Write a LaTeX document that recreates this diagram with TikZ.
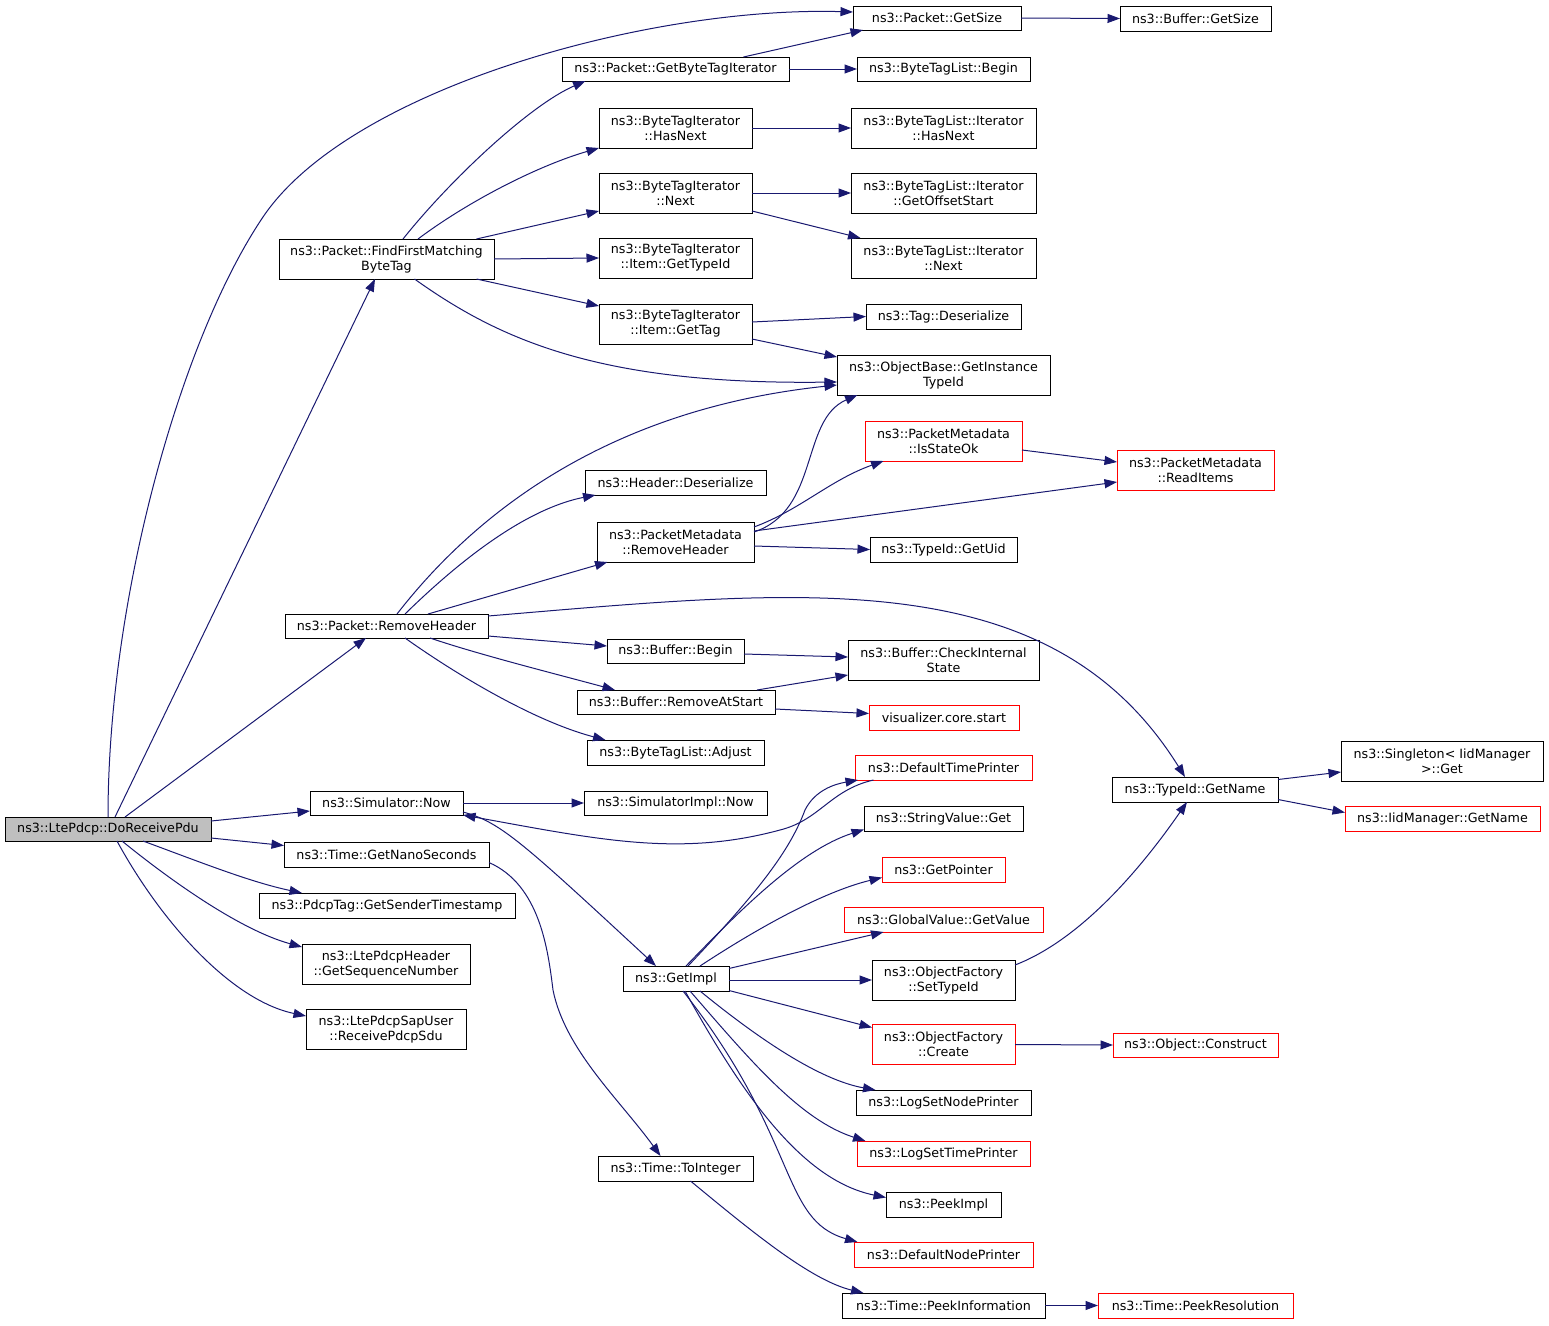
\documentclass[tikz,border=0pt]{standalone}
\usepackage{fontspec}
\setmainfont{DejaVu Sans}
\usetikzlibrary{arrows.meta}
\definecolor{edgec}{HTML}{191970}
\definecolor{boxc}{HTML}{000000}
\definecolor{redc}{HTML}{FF0000}
\definecolor{fillc}{HTML}{BFBFBF}
\tikzset{
 box/.style={draw=boxc, line width=1pt, inner xsep=2pt, inner ysep=1pt, outer sep=0pt, align=center, font=\fontsize{12.7}{15}\selectfont, text=black},
 redbox/.style={box, draw=redc},
 edge/.style={draw=edgec, line width=1pt, -{Triangle[length=12.5pt,width=9pt]}},
}
\begin{document}
\begin{tikzpicture}[x=1pt,y=-1pt]
\useasboundingbox (0,0) rectangle (1549,1325);
% ---- nodes
\node[box, fill=fillc, minimum width=206pt, minimum height=24pt] (drp) at (108,829) {ns3::LtePdcp::DoReceivePdu};
\node[box, minimum width=153pt, minimum height=24pt] (simnow) at (386.5,803) {ns3::Simulator::Now};
\node[box, minimum width=205pt, minimum height=25pt] (gns) at (386.5,854.5) {ns3::Time::GetNanoSeconds};
\node[box, minimum width=256pt, minimum height=25pt] (gst) at (387,905.5) {ns3::PdcpTag::GetSenderTimestamp};
\node[box, minimum width=168pt, minimum height=40pt] (gsn) at (386,964) {ns3::LtePdcpHeader\\::GetSequenceNumber};
\node[box, minimum width=160pt, minimum height=40pt] (rps) at (386,1029) {ns3::LtePdcpSapUser\\::ReceivePdcpSdu};
\node[box, minimum width=215pt, minimum height=40pt] (ffm) at (386.5,259) {ns3::Packet::FindFirstMatching\\ByteTag};
\node[box, minimum width=203pt, minimum height=24pt] (rh) at (386.5,626) {ns3::Packet::RemoveHeader};
\node[box, minimum width=168pt, minimum height=24pt] (pgs) at (937,18) {ns3::Packet::GetSize};
\node[box, minimum width=151pt, minimum height=25pt] (bgs) at (1195.5,18.5) {ns3::Buffer::GetSize};
\node[box, minimum width=227pt, minimum height=24pt] (gbti) at (675.5,69) {ns3::Packet::GetByteTagIterator};
\node[box, minimum width=173pt, minimum height=24pt] (btlb) at (943.5,69) {ns3::ByteTagList::Begin};
\node[box, minimum width=153pt, minimum height=40pt] (bhn) at (675.5,128) {ns3::ByteTagIterator\\::HasNext};
\node[box, minimum width=185pt, minimum height=40pt] (blhn) at (943.5,128) {ns3::ByteTagList::Iterator\\::HasNext};
\node[box, minimum width=153pt, minimum height=40pt] (bnx) at (675.5,193) {ns3::ByteTagIterator\\::Next};
\node[box, minimum width=185pt, minimum height=40pt] (bgos) at (943.5,193) {ns3::ByteTagList::Iterator\\::GetOffsetStart};
\node[box, minimum width=153pt, minimum height=40pt] (bgt) at (675.5,258) {ns3::ByteTagIterator\\::Item::GetTypeId};
\node[box, minimum width=185pt, minimum height=40pt] (blnx) at (943.5,258) {ns3::ByteTagList::Iterator\\::Next};
\node[box, minimum width=153pt, minimum height=40pt] (bgtag) at (675.5,324) {ns3::ByteTagIterator\\::Item::GetTag};
\node[box, minimum width=155pt, minimum height=25pt] (tds) at (943.5,316.5) {ns3::Tag::Deserialize};
\node[box, minimum width=213pt, minimum height=40pt] (git) at (943.5,375) {ns3::ObjectBase::GetInstance\\TypeId};
\node[redbox, minimum width=157pt, minimum height=40pt] (iso) at (943.5,441) {ns3::PacketMetadata\\::IsStateOk};
\node[redbox, minimum width=157pt, minimum height=40pt] (rit) at (1195.5,470) {ns3::PacketMetadata\\::ReadItems};
\node[box, minimum width=181pt, minimum height=25pt] (hds) at (675.5,482.5) {ns3::Header::Deserialize};
\node[box, minimum width=157pt, minimum height=40pt] (pmrh) at (675.5,542) {ns3::PacketMetadata\\::RemoveHeader};
\node[box, minimum width=147pt, minimum height=25pt] (uid) at (943.5,549.5) {ns3::TypeId::GetUid};
\node[box, minimum width=137pt, minimum height=24pt] (bb) at (675.5,651) {ns3::Buffer::Begin};
\node[box, minimum width=191pt, minimum height=40pt] (cis) at (943.5,660) {ns3::Buffer::CheckInternal\\State};
\node[box, minimum width=198pt, minimum height=24pt] (rat) at (676,702) {ns3::Buffer::RemoveAtStart};
\node[redbox, minimum width=150pt, minimum height=25pt] (vcs) at (944,717.5) {visualizer.core.start};
\node[box, minimum width=177pt, minimum height=25pt] (bta) at (675.5,752.5) {ns3::ByteTagList::Adjust};
\node[box, minimum width=183pt, minimum height=24pt] (sin) at (675.5,803) {ns3::SimulatorImpl::Now};
\node[redbox, minimum width=177pt, minimum height=25pt] (dtp) at (943.5,767.5) {ns3::DefaultTimePrinter};
\node[box, minimum width=159pt, minimum height=25pt] (svg) at (943.5,818.5) {ns3::StringValue::Get};
\node[redbox, minimum width=123pt, minimum height=25pt] (gp) at (943.5,869.5) {ns3::GetPointer};
\node[redbox, minimum width=199pt, minimum height=25pt] (gv) at (943.5,919.5) {ns3::GlobalValue::GetValue};
\node[box, minimum width=143pt, minimum height=40pt] (stid) at (943.5,980) {ns3::ObjectFactory\\::SetTypeId};
\node[redbox, minimum width=143pt, minimum height=40pt] (ofc) at (943.5,1044.5) {ns3::ObjectFactory\\::Create};
\node[box, minimum width=175pt, minimum height=25pt] (lsnp) at (943.5,1102.5) {ns3::LogSetNodePrinter};
\node[redbox, minimum width=173pt, minimum height=25pt] (lstp) at (943.5,1153.5) {ns3::LogSetTimePrinter};
\node[box, minimum width=115pt, minimum height=25pt] (pki) at (943.5,1204.5) {ns3::PeekImpl};
\node[redbox, minimum width=179pt, minimum height=25pt] (dnp) at (943.5,1254.5) {ns3::DefaultNodePrinter};
\node[box, minimum width=203pt, minimum height=25pt] (pinf) at (943.5,1305.5) {ns3::Time::PeekInformation};
\node[redbox, minimum width=195pt, minimum height=25pt] (pres) at (1195.5,1305.5) {ns3::Time::PeekResolution};
\node[box, minimum width=106pt, minimum height=25pt] (gi) at (676,978.5) {ns3::GetImpl};
\node[box, minimum width=155pt, minimum height=25pt] (toi) at (675.5,1168.5) {ns3::Time::ToInteger};
\node[box, minimum width=166pt, minimum height=25pt] (tgn) at (1195,789.5) {ns3::TypeId::GetName};
\node[box, minimum width=202pt, minimum height=40pt] (sgt) at (1442,761) {ns3::Singleton< IidManager\\>::Get};
\node[redbox, minimum width=195pt, minimum height=25pt] (igm) at (1442.5,818.5) {ns3::IidManager::GetName};
\node[redbox, minimum width=165pt, minimum height=24pt] (ocs) at (1195.5,1045) {ns3::Object::Construct};
% ---- edges from DoReceivePdu
\draw[edge] (drp.north) .. controls (108,600) and (180,340) .. (263,217) .. controls (350,88) and (650,6) .. ([yshift=6pt]pgs.west);
\draw[edge] ([xshift=7pt]drp.north) -- ([xshift=-11.5pt]ffm.south);
\draw[edge] ([xshift=17pt]drp.north) -- ([xshift=-20.5pt]rh.south);
\draw[edge] ([yshift=8pt]drp.east) -- ([yshift=-8pt]simnow.west);
\draw[edge] ([yshift=-9pt]drp.east) -- ([yshift=9pt]gns.west);
\draw[edge] ([xshift=35pt]drp.south) .. controls (200,862) and (250,882) .. ([xshift=-85pt]gst.north);
\draw[edge] ([xshift=14pt]drp.south) .. controls (170,880) and (240,930) .. ([yshift=17pt]gsn.west);
\draw[edge] ([xshift=9pt]drp.south) .. controls (160,920) and (230,1000) .. ([yshift=13pt]rps.west);
% ---- FindFirstMatchingByteTag
\draw[edge] ([xshift=16.5pt]ffm.north) .. controls (450,180) and (530,105) .. ([xshift=-90pt]gbti.south);
\draw[edge] ([xshift=31.5pt]ffm.north) .. controls (470,200) and (540,165) .. (bhn.south west);
\draw[edge] ([xshift=90pt]ffm.north) -- ([yshift=-18pt]bnx.west);
\draw[edge] (ffm.east) -- (bgt.west);
\draw[edge] ([xshift=90pt]ffm.south) -- ([yshift=18pt]bgtag.west);
\draw[edge] ([xshift=28pt]ffm.south) .. controls (500,340) and (600,385) .. ([yshift=-7pt]git.west);
% ---- upper right
\draw[edge] ([xshift=68pt]gbti.north) -- ([xshift=-74pt]pgs.south);
\draw[edge] (gbti.east) -- (btlb.west);
\draw[edge] (pgs.east) -- (bgs.west);
\draw[edge] (bhn.east) -- (blhn.west);
\draw[edge] (bnx.east) -- (bgos.west);
\draw[edge] ([yshift=-18pt]bnx.east) -- ([xshift=-83pt]blnx.north);
\draw[edge] ([yshift=2pt]bgtag.east) -- (tds.west);
\draw[edge] ([yshift=-15pt]bgtag.east) -- ([yshift=-2pt]git.north west);
% ---- RemoveHeader
\draw[edge] ([xshift=10.5pt]rh.north) .. controls (470,520) and (600,410) .. ([yshift=-10pt]git.west);
\draw[edge] ([xshift=18.5pt]rh.north) .. controls (450,570) and (520,510) .. ([xshift=-80pt]hds.south);
\draw[edge] ([xshift=41.5pt]rh.north) -- ([xshift=-68pt]pmrh.south);
\draw[edge] ([yshift=10pt]rh.east) .. controls (800,590) and (1050,560) .. ([xshift=-10pt]tgn.north);
\draw[edge] ([yshift=-10pt]rh.east) -- ([yshift=5pt]bb.west);
\draw[edge] ([xshift=43.5pt]rh.south) .. controls (480,655) and (560,675) .. ([xshift=-61pt]rat.north);
\draw[edge] ([xshift=18.5pt]rh.south) .. controls (450,670) and (530,720) .. ([xshift=-70pt]bta.north);
% ---- PacketMetadata::RemoveHeader
\draw[edge] ([yshift=10pt]pmrh.east) .. controls (820,510) and (800,420) .. ([xshift=-86pt]git.south);
\draw[edge] ([yshift=15pt]pmrh.east) .. controls (800,510) and (830,480) .. ([xshift=-60pt]iso.south);
\draw[edge] ([yshift=11pt]pmrh.east) -- ([yshift=-12pt]rit.west);
\draw[edge] ([yshift=-4pt]pmrh.east) -- (uid.west);
\draw[edge] ([yshift=-9pt]iso.east) -- ([yshift=8pt]rit.west);
% ---- Buffer
\draw[edge] ([yshift=-3pt]bb.east) -- ([yshift=3pt]cis.west);
\draw[edge] ([xshift=81pt]rat.north) -- ([yshift=-15pt]cis.west);
\draw[edge] ([yshift=-7pt]rat.east) -- ([yshift=4pt]vcs.west);
% ---- Simulator::Now
\draw[edge] (simnow.east) -- (sin.west);
\draw[edge] ([yshift=-9pt]simnow.east) .. controls (500,822) and (520,840) .. ([xshift=-20pt]gi.north);
\draw[edge] ([xshift=-70pt]dtp.south) .. controls (830,790) and (820,820) .. (780,830) .. controls (680,857) and (600,840) .. (simnow.south east);
% ---- Time
\draw[edge] ([yshift=-8pt]gns.east) .. controls (540,885) and (548,950) .. (553,990) .. controls (565,1050) and (620,1100) .. ([xshift=-15pt]toi.north);
\draw[edge] ([xshift=15pt]toi.south) .. controls (750,1230) and (810,1280) .. ([xshift=-80pt]pinf.north);
\draw[edge] (pinf.east) -- (pres.west);
% ---- GetImpl
\draw[edge] ([xshift=12pt]gi.north) .. controls (760,890) and (790,850) .. (805,810) .. controls (815,790) and (835,784) .. ([xshift=3pt]dtp.south west);
\draw[edge] ([xshift=10pt]gi.north) .. controls (740,910) and (800,850) .. ([yshift=-11pt]svg.west);
\draw[edge] ([xshift=24pt]gi.north) .. controls (770,920) and (830,890) .. ([yshift=-8pt]gp.west);
\draw[edge] ([yshift=10pt]gi.east) -- ([xshift=-60pt]gv.south);
\draw[edge] ([yshift=-1.5pt]gi.east) -- (stid.west);
\draw[edge] ([yshift=-12pt]gi.east) -- ([yshift=17pt]ofc.west);
\draw[edge] ([xshift=24pt]gi.south) .. controls (760,1040) and (820,1080) .. ([xshift=-68pt]lsnp.north);
\draw[edge] ([xshift=14pt]gi.south) .. controls (750,1060) and (800,1120) .. ([xshift=-78pt]lstp.north);
\draw[edge] ([xshift=9pt]gi.south) .. controls (740,1090) and (800,1180) .. ([yshift=7pt]pki.west);
\draw[edge] ([xshift=7pt]gi.south) .. controls (800,1140) and (780,1220) .. ([xshift=-86pt]dnp.north);
% ---- right side
\draw[edge] ([yshift=15pt]stid.east) .. controls (1080,940) and (1140,870) .. ([xshift=-8pt]tgn.south);
\draw[edge] (ofc.east) -- (ocs.west);
\draw[edge] ([yshift=10pt]tgn.east) -- ([yshift=-11pt]sgt.west);
\draw[edge] ([yshift=-10pt]tgn.east) -- ([yshift=6pt]igm.west);
\end{tikzpicture}
\end{document}
